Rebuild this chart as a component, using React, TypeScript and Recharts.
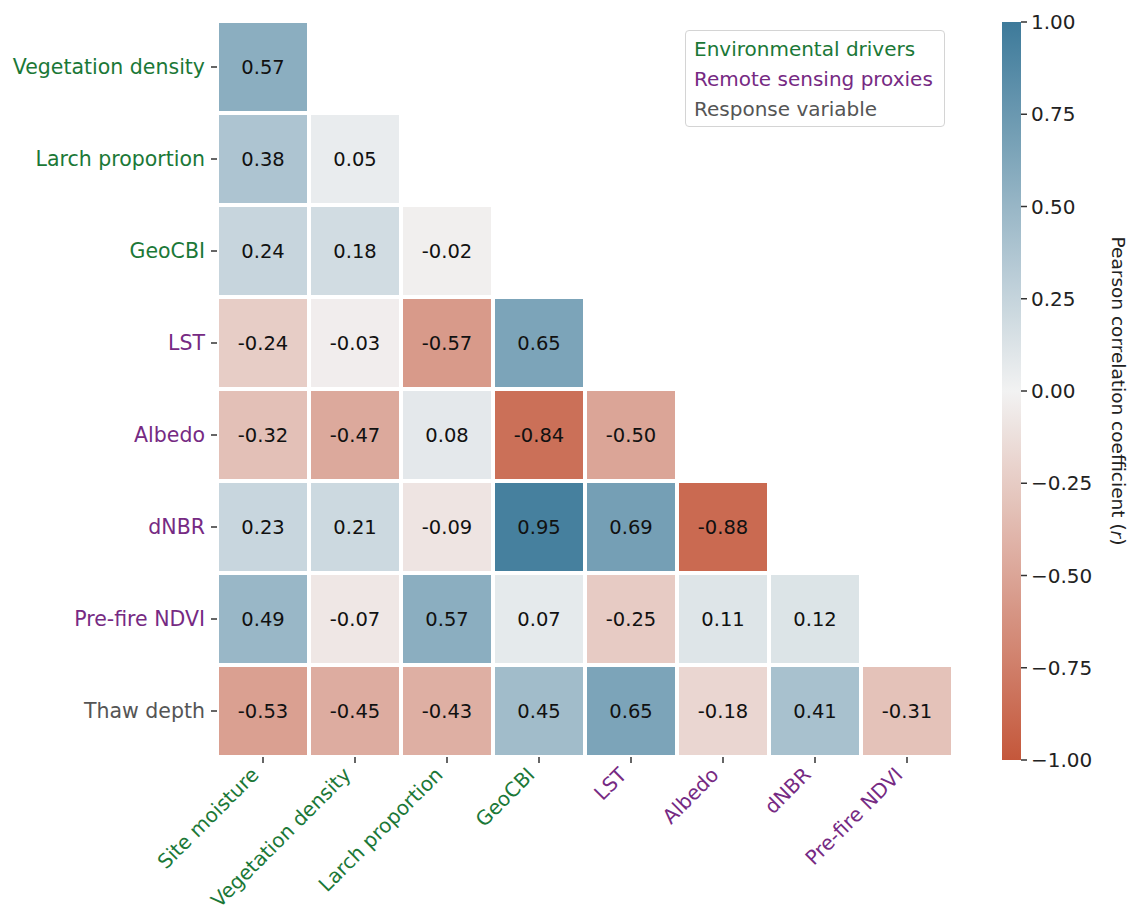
import { ScatterChart, Scatter, XAxis, YAxis, BarChart, Bar } from 'recharts';

// Variables on each axis of the lower-triangle correlation matrix
const colLabels = ['Site moisture', 'Vegetation density', 'Larch proportion', 'GeoCBI', 'LST', 'Albedo', 'dNBR', 'Pre-fire NDVI'];
const rowLabels = ['Vegetation density', 'Larch proportion', 'GeoCBI', 'LST', 'Albedo', 'dNBR', 'Pre-fire NDVI', 'Thaw depth'];

// Pearson r, one array per row (columns left to right)
const rVegetationDensity = [0.57];
const rLarchProportion = [0.38, 0.05];
const rGeoCBI = [0.24, 0.18, -0.02];
const rLST = [-0.24, -0.03, -0.57, 0.65];
const rAlbedo = [-0.32, -0.47, 0.08, -0.84, -0.5];
const rDNBR = [0.23, 0.21, -0.09, 0.95, 0.69, -0.88];
const rPreFireNDVI = [0.49, -0.07, 0.57, 0.07, -0.25, 0.11, 0.12];
const rThawDepth = [-0.53, -0.45, -0.43, 0.45, 0.65, -0.18, 0.41, -0.31];

const corrRows = [rVegetationDensity, rLarchProportion, rGeoCBI, rLST, rAlbedo, rDNBR, rPreFireNDVI, rThawDepth];

const envVars = ['Site moisture', 'Vegetation density', 'Larch proportion', 'GeoCBI'];
const rsVars = ['LST', 'Albedo', 'dNBR', 'Pre-fire NDVI'];
const legendItems = ['Environmental drivers', 'Remote sensing proxies', 'Response variable'];
const cbarTicks = [-1, -0.75, -0.5, -0.25, 0, 0.25, 0.5, 0.75, 1];

const GREEN = '#1b7837';
const PURPLE = '#762a83';
const GREY = '#555555';
const FONT = '"DejaVu Sans", sans-serif';

const labelColor = (name: string) => (envVars.includes(name) ? GREEN : rsVars.includes(name) ? PURPLE : GREY);

// diverging red -> light -> blue colormap
const NEG = [196, 87, 59];
const MID = [242, 242, 242];
const POS = [61, 122, 154];
function rColor(v: number) {
  const end = v < 0 ? NEG : POS;
  const t = Math.min(1, Math.abs(v));
  const c = MID.map((m, k) => Math.round(m + (end[k] - m) * t));
  return `rgb(${c[0]},${c[1]},${c[2]})`;
}

const N = colLabels.length;
const PLOT = { left: 217, top: 21, size: 736 };
const CELL = PLOT.size / N;

const cells = corrRows.flatMap((row, i) => row.map((v, j) => ({ x: j + 0.5, y: i + 0.5, v })));
const centers = colLabels.map((_, i) => i + 0.5);

function HeatCell(props: any) {
  const { cx, cy, payload } = props;
  const s = CELL - 4;
  return (
    <g>
      <rect x={cx - s / 2} y={cy - s / 2} width={s} height={s} fill={rColor(payload.v)} />
      <text x={cx} y={cy} textAnchor="middle" dominantBaseline="central" fontSize={19.5} fill="#111" fontFamily={FONT}>
        {payload.v.toFixed(2)}
      </text>
    </g>
  );
}

function RowTick(props: any) {
  const { x, y, payload } = props;
  const label = rowLabels[Math.floor(payload.value)];
  return (
    <text x={x} y={y} textAnchor="end" dominantBaseline="central" fontSize={20.5} fill={labelColor(label)} fontFamily={FONT}>
      {label}
    </text>
  );
}

function ColTick(props: any) {
  const { x, y, payload } = props;
  const label = colLabels[Math.floor(payload.value)];
  const ax = x - 3;
  const ay = y + 9;
  return (
    <text x={ax} y={ay} transform={`rotate(-45, ${ax}, ${ay})`} textAnchor="end" fontSize={20} fill={labelColor(label)} fontFamily={FONT}>
      {label}
    </text>
  );
}

function CbarLabel(props: any) {
  const { viewBox } = props;
  const x = viewBox.x + viewBox.width - 9;
  const y = viewBox.y + viewBox.height / 2;
  return (
    <text x={x} y={y} transform={`rotate(90, ${x}, ${y})`} textAnchor="middle" dominantBaseline="central" fontSize={18.5} fill="#222" fontFamily={FONT}>
      Pearson correlation coefficient (<tspan fontStyle="italic">r</tspan>)
    </text>
  );
}

const cbarData = [{ name: 'r', range: [-1, 1] }];
const gradStops = Array.from({ length: 21 }, (_, k) => 1 - k / 10);

export default function App() {
  return (
    <div style={{ position: 'absolute', left: 0, top: 0, width: 1127, height: 915, background: '#fff', fontFamily: FONT }}>
      <div style={{ position: 'absolute', left: 0, top: 0 }}>
        <ScatterChart
          width={1127}
          height={915}
          margin={{ top: PLOT.top, left: PLOT.left - 200, right: 1127 - PLOT.left - PLOT.size, bottom: 0 }}
        >
          <XAxis
            type="number"
            dataKey="x"
            domain={[0, N]}
            ticks={centers}
            interval={0}
            height={915 - PLOT.top - PLOT.size}
            axisLine={false}
            tickSize={6}
            tickMargin={4}
            tickLine={{ stroke: '#333', strokeWidth: 1.5 }}
            tick={<ColTick />}
          />
          <YAxis
            type="number"
            dataKey="y"
            reversed
            domain={[0, N]}
            ticks={centers}
            interval={0}
            width={200}
            axisLine={false}
            tickSize={6}
            tickMargin={6}
            tickLine={{ stroke: '#333', strokeWidth: 1.5 }}
            tick={<RowTick />}
          />
          <Scatter data={cells} shape={<HeatCell />} isAnimationActive={false} />
        </ScatterChart>
      </div>

      <div
        style={{
          position: 'absolute',
          left: 685,
          top: 30,
          width: 260,
          height: 97,
          border: '1px solid #d4d4d4',
          borderRadius: 4,
          paddingLeft: 8,
          paddingTop: 3,
          boxSizing: 'border-box',
          fontSize: 20,
          lineHeight: '30px',
          whiteSpace: 'nowrap',
        }}
      >
        {legendItems.map((t, k) => (
          <div key={t} style={{ color: [GREEN, PURPLE, GREY][k] }}>{t}</div>
        ))}
      </div>

      <div style={{ position: 'absolute', left: 1002, top: 0 }}>
        <BarChart width={125} height={915} data={cbarData} margin={{ top: 22, bottom: 155, left: 0, right: 0 }} barCategoryGap={0}>
          <defs>
            <linearGradient id="cbGrad" x1="0" y1="0" x2="0" y2="1">
              {gradStops.map((v, k) => (
                <stop key={k} offset={`${(k / 20) * 100}%`} stopColor={rColor(v)} />
              ))}
            </linearGradient>
          </defs>
          <XAxis dataKey="name" hide />
          <YAxis
            orientation="right"
            type="number"
            domain={[-1, 1]}
            ticks={cbarTicks}
            interval={0}
            width={106}
            axisLine={false}
            tickSize={6}
            tickMargin={4}
            tickLine={{ stroke: '#333', strokeWidth: 1.5 }}
            tick={{ fontSize: 20, fill: '#222', fontFamily: FONT }}
            tickFormatter={(v: number) => v.toFixed(2).replace('-', '\u2212')}
            label={<CbarLabel />}
          />
          <Bar dataKey="range" fill="url(#cbGrad)" isAnimationActive={false} />
        </BarChart>
      </div>
    </div>
  );
}
